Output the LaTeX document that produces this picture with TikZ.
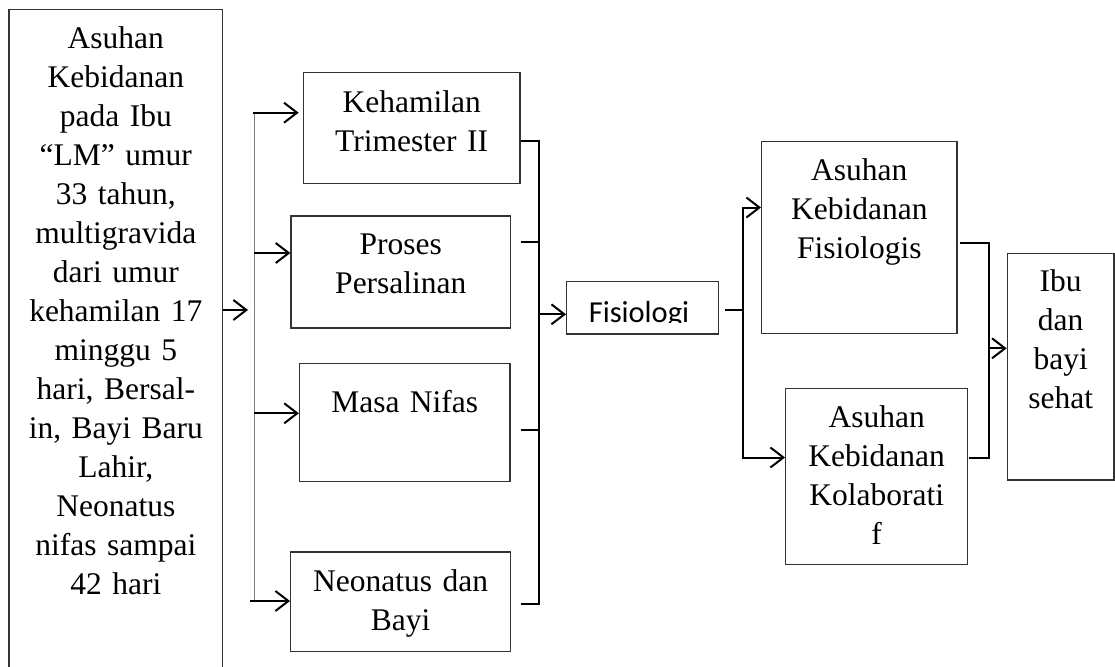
\documentclass[tikz,border=0pt]{standalone}
\usepackage{fontspec}
\setmainfont{Liberation Serif}
\newfontfamily\calibri{Carlito}
\usetikzlibrary{arrows.meta}

\begin{document}
\begin{tikzpicture}[x=1pt,y=-1pt,
		box/.style={rectangle,draw=black!80,line width=1.3pt,inner sep=0pt},
		txt/.style={anchor=base,inner sep=0pt,text width=230pt,align=center,font=\fontsize{31.5}{39}\selectfont},
		arr/.style={-{Straight Barb[length=13pt,width=20pt]},line width=2pt},
		line/.style={line width=2pt},
		bus/.style={draw=black!50,line width=1.3pt}]
			\useasboundingbox (0,0) rectangle (1115,666);
			
			\node[box,minimum width=213.7pt,minimum height=710.7pt] (asuhan) at (115.85,364.65) {};
			\node[box,minimum width=216.7pt,minimum height=110.6pt] (hamil) at (411.65,128) {};
			\node[box,minimum width=219.7pt,minimum height=112pt] (salin) at (400.85,272) {};
			\node[box,minimum width=210.5pt,minimum height=118.4pt] (nifas) at (404.75,422.5) {};
			\node[box,minimum width=220pt,minimum height=99.5pt] (neo) at (400.7,601.75) {};
			\node[box,minimum width=151.6pt,minimum height=52.3pt] (fisio) at (642.5,307.85) {};
			\node[box,minimum width=195.3pt,minimum height=191.6pt] (akf) at (859.35,237.5) {};
			\node[box,minimum width=182pt,minimum height=176pt] (akk) at (876.7,476.3) {};
			\node[box,minimum width=106.7pt,minimum height=226.7pt] (sehat) at (1060.65,366.65) {};
			
			\node[txt] (asuhan-t) at ([yshift=-40pt]asuhan.north) {Asuhan\\ Kebidanan\\ pada Ibu\\ “LM” umur\\ 33 tahun,\\ multigravida\\ dari umur\\ kehamilan 17\\ minggu 5\\ hari, Bersal-\\ in, Bayi Baru\\ Lahir,\\ Neonatus\\ nifas sampai\\ 42 hari};
			\node[txt] (hamil-t) at ([yshift=-40pt]hamil.north) {Kehamilan\\ Trimester II};
			\node[txt] (salin-t) at ([yshift=-39pt]salin.north) {Proses\\ Persalinan};
			\node[txt] (nifas-t) at ([yshift=-49.5pt]nifas.north) {Masa Nifas};
			\node[txt] (neo-t) at ([yshift=-39.7pt]neo.north) {Neonatus dan\\ Bayi};
			\node[txt] (akf-t) at ([yshift=-39.3pt]akf.north) {Asuhan\\ Kebidanan\\ Fisiologis};
			\node[txt] (akk-t) at ([yshift=-39.7pt]akk.north) {Asuhan\\ Kebidanan\\ Kolaborati\\ f};
			\node[txt] (sehat-t) at ([yshift=-38.4pt]sehat.north) {Ibu\\ dan\\ bayi\\ sehat};
			\begin{scope}
				\clip (567,282) rectangle (718,322.5);
				\node[anchor=base,inner sep=0pt,font=\calibri\fontsize{30.5}{36}\selectfont] (fisio-t) at (639,322) {Fisiologi};
			\end{scope}
			
			% left side
			\coordinate (in) at (248,310);
			\coordinate (b1) at (254.3,112.7);
			\coordinate (b2) at (254.3,253);
			\coordinate (b3) at (254.3,413.3);
			\coordinate (b4) at (254.3,601);
			\draw[arr] (asuhan.east |- in) -- (in);
			\draw[bus] (b1) -- (b4);
			\draw[arr] ([xshift=-1.5pt]b1) -- ([xshift=-4pt]b1 -| hamil.west);
			\draw[arr] (b2) -- (b2 -| salin.west);
			\draw[arr] (b3) -- (b3 -| nifas.west);
			\draw[arr] ([xshift=-4pt]b4) -- (b4 -| neo.west);
			
			% middle
			\coordinate (r1) at (539.3,140.7);
			\coordinate (r2) at (539.3,242);
			\coordinate (r3) at (539.3,430);
			\coordinate (r4) at (539.3,604);
			\coordinate (r5) at (539.3,314.3);
			\draw[line] (hamil.east |- r1) -- (r1) -- (r4) -- ([xshift=9.3pt]neo.east |- r4);
			\draw[line] ([xshift=9.3pt]salin.east |- r2) -- (r2);
			\draw[line] ([xshift=10pt]nifas.east |- r3) -- (r3);
			\draw[arr] (r5) -- (r5 -| fisio.west);
			
			% right side
			\coordinate (s0) at (743.3,310);
			\coordinate (s1) at (743.3,207.5);
			\coordinate (s2) at (743.3,457.5);
			\draw[line] ([xshift=5.7pt]fisio.east |- s0) -- (s0);
			\draw[arr] (s0) |- (akf.west |- s1);
			\draw[arr] (s0) |- (akk.west |- s2);
			
			\coordinate (t0) at (989,348.3);
			\coordinate (t1) at (989,242.7);
			\coordinate (t2) at (989,457.5);
			\draw[line] ([xshift=2pt]akf.east |- t1) -- (t1) -- (t2) -- ([xshift=1pt]akk.east |- t2);
			\draw[arr] (t0) -- (t0 -| sehat.west);
		\end{tikzpicture}
\end{document}
